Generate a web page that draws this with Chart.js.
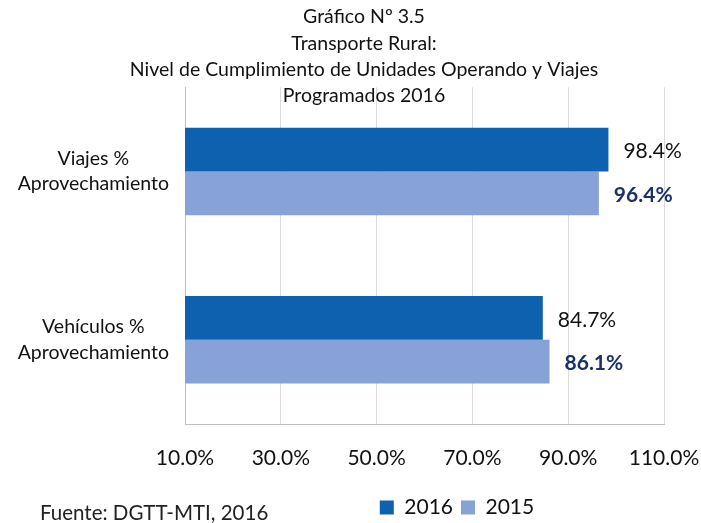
<!DOCTYPE html>
<html lang="es">
<head>
  <meta charset="UTF-8" />
  <title>Gráfico Nº 3.5</title>
  <script src="https://cdn.jsdelivr.net/npm/chart.js"></script>
  <style>
    body { margin: 0; background: #fff; }
    .wrap { width: 701px; height: 523px; }
  </style>
</head>
<body>
  <div class="wrap"><canvas id="grafico" width="701" height="523"></canvas></div>

  <script>
    // datos del gráfico
    const categorias = [['Viajes %', 'Aprovechamiento'], ['Vehículos %', 'Aprovechamiento']];
    const serie2016 = [98.4, 84.7];
    const serie2015 = [96.4, 86.1];
    const ticksX = [10, 30, 50, 70, 90, 110];
    const titulo = ['Gráfico Nº 3.5', 'Transporte Rural:', 'Nivel de Cumplimiento de Unidades Operando y Viajes', 'Programados 2016'];
    const fuente = 'Fuente: DGTT-MTI, 2016';

    const FONT = 'Lato, "Liberation Sans", sans-serif';

    // etiquetas de valor al final de cada barra
    const etiquetas = {
      id: 'etiquetas',
      afterDatasetsDraw(chart) {
        const ctx = chart.ctx;
        ctx.save();
        ctx.textBaseline = 'middle';
        ctx.textAlign = 'left';
        chart.data.datasets.forEach((ds, i) => {
          chart.getDatasetMeta(i).data.forEach((bar, j) => {
            ctx.font = (i === 1 ? 'bold ' : '') + '21px ' + FONT;
            ctx.fillStyle = i === 1 ? '#1b2f6b' : '#111';
            ctx.fillText(ds.data[j].toFixed(1) + '%', bar.x + 15, bar.y + 2);
          });
        });
        ctx.restore();
      }
    };

    // mover título y leyenda, y escribir la fuente
    const ajustes = {
      id: 'ajustes',
      afterLayout(chart) {
        chart.titleBlock.left += 32;
        chart.titleBlock.right += 32;
        chart.legend.left += 125;
        chart.legend.right += 125;
        chart.legend.top += 5;
        chart.legend.bottom += 5;
      },
      afterDraw(chart) {
        const ctx = chart.ctx;
        ctx.save();
        ctx.font = '20.5px ' + FONT;
        ctx.fillStyle = '#222';
        ctx.textBaseline = 'middle';
        ctx.fillText(fuente, 40, 513);
        ctx.restore();
      }
    };

    new Chart(document.getElementById('grafico'), {
      type: 'bar',
      data: {
        labels: categorias,
        datasets: [
          { label: '2016', data: serie2016, backgroundColor: '#0e61ae', barPercentage: 1, categoryPercentage: 0.52 },
          { label: '2015', data: serie2015, backgroundColor: '#87a2d7', barPercentage: 1, categoryPercentage: 0.52 }
        ]
      },
      options: {
        indexAxis: 'y',
        responsive: false,
        animation: false,
        layout: { padding: { left: 0, right: 37, bottom: 0 } },
        plugins: {
          title: {
            display: true,
            text: titulo,
            color: '#111',
            font: { family: FONT, size: 19.5, weight: 'normal', lineHeight: 1.35 },
            padding: { top: 4, bottom: -22 }
          },
          legend: {
            position: 'bottom',
            labels: {
              color: '#111',
              font: { family: FONT, size: 21 },
              boxWidth: 14,
              boxHeight: 14,
              padding: 8
            }
          },
          tooltip: { enabled: false }
        },
        scales: {
          x: {
            min: 10,
            max: 110,
            afterBuildTicks(scale) { scale.ticks = ticksX.map(v => ({ value: v })); },
            afterFit(scale) {
              scale.height = 60;
              scale.paddingLeft = 0;
              scale.paddingRight = 0;
            },
            ticks: {
              color: '#111',
              font: { family: FONT, size: 21 },
              padding: 22,
              callback: v => v.toFixed(1) + '%'
            },
            grid: { color: '#d9d9d9', drawTicks: false },
            border: { color: '#bfbfbf' }
          },
          y: {
            afterFit(scale) { scale.width = 185; },
            ticks: {
              color: '#111',
              font: { family: FONT, size: 19.5, lineHeight: 1.3 },
              crossAlign: 'center',
              padding: 8
            },
            grid: { display: false },
            border: { color: '#bfbfbf' }
          }
        }
      },
      plugins: [etiquetas, ajustes]
    });
  </script>
</body>
</html>
